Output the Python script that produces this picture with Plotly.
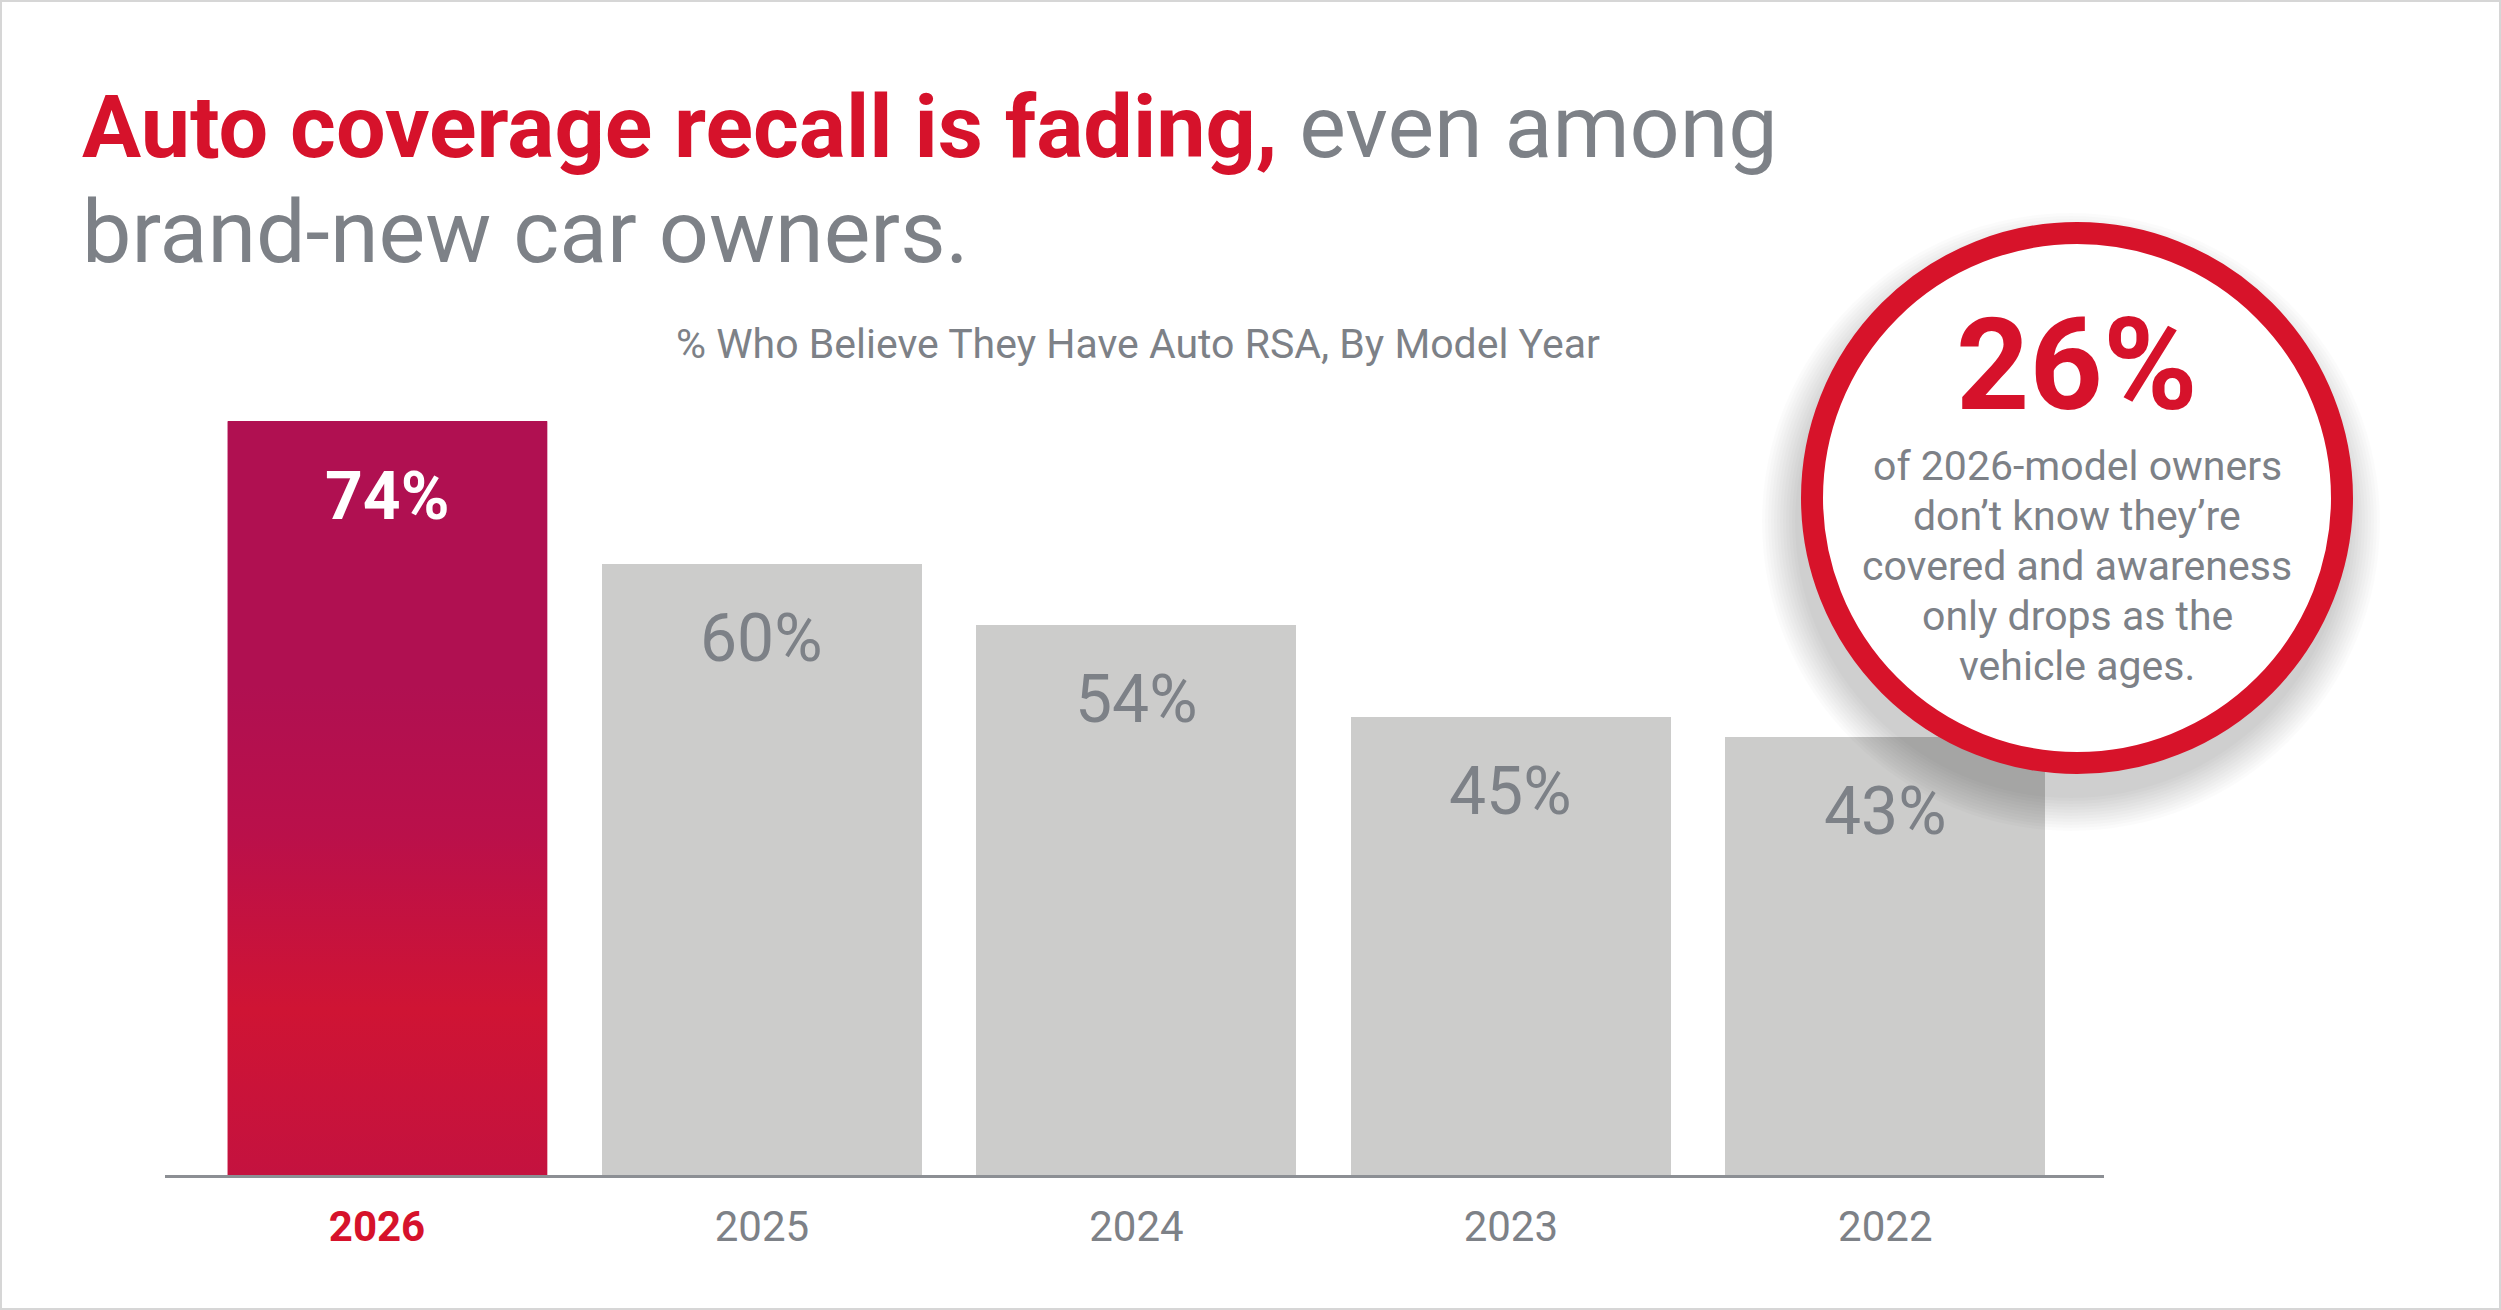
import plotly.graph_objects as go

# ---------------- data ----------------
years = ["2026", "2025", "2024", "2023", "2022"]
pct = [74, 60, 54, 45, 43]
value_labels = ["74%", "60%", "54%", "45%", "43%"]

title_red = "Auto coverage recall is fading,"
title_gray_1 = "even among"
title_gray_2 = "brand-new car owners."
subtitle = "% Who Believe They Have Auto RSA, By Model Year"

callout_value = "26%"
callout_lines = [
    "of 2026-model owners",
    "don\u2019t know they\u2019re",
    "covered and awareness",
    "only drops as the",
    "vehicle ages.",
]

# ---------------- layout constants ----------------
W, H = 2501, 1310
ML, MR, MT, MB = 165, 397, 360, 135
PW = W - ML - MR
PH = H - MT - MB
YMAX = 80
BAR_W = 0.854
X_RANGE = [-0.594, 4.584]

RED = "#d6122b"
GRAY_TXT = "#7d8187"
BAR_GRAY = "#cccccb"
AXIS = "#8c8f94"
FONT = "Roboto"


def fx(px):
    return (px - ML) / PW


def fy(py):
    return (H - MB - py) / PH


xs = list(range(len(years)))

fig = go.Figure()

fig.add_trace(go.Bar(
    x=xs, y=pct, width=BAR_W,
    marker=dict(color=["#b31150"] + [BAR_GRAY] * (len(years) - 1), line=dict(width=0)),
    hoverinfo="skip", showlegend=False,
))

# gradient overlay for highlighted (first) bar, built from its data value
x0 = xs[0] - BAR_W / 2
x1 = xs[0] + BAR_W / 2
fig.add_trace(go.Scatter(
    x=[x0, x1, x1, x0, x0], y=[0, 0, pct[0], pct[0], 0],
    mode="lines", line=dict(width=0), fill="toself",
    fillgradient=dict(type="vertical", colorscale=[
        [0.0, "#c4123f"], [0.22, "#cf1434"], [0.45, "#ba104a"], [0.65, "#b01051"], [1.0, "#b01051"]]),
    hoverinfo="skip", showlegend=False,
))

annotations = []
for i, (v, lab) in enumerate(zip(pct, value_labels)):
    annotations.append(dict(
        x=xs[i], y=v, xref="x", yref="y", text=(f"<b>{lab}</b>" if i == 0 else lab),
        showarrow=False, yanchor="middle", xanchor="center", yshift=-75,
        font=dict(family=FONT, size=66, color=("white" if i == 0 else GRAY_TXT)),
    ))

annotations += [
    dict(x=fx(80), y=fy(126), xref="paper", yref="paper", xanchor="left", yanchor="middle",
         text=f"<b><span style='color:{RED}'>{title_red}</span></b> {title_gray_1}",
         showarrow=False, align="left", font=dict(family=FONT, size=88, color=GRAY_TXT)),
    dict(x=fx(80), y=fy(231), xref="paper", yref="paper", xanchor="left", yanchor="middle",
         text=title_gray_2, showarrow=False, align="left",
         font=dict(family=FONT, size=88, color=GRAY_TXT)),
    dict(x=fx(1138), y=fy(344), xref="paper", yref="paper", xanchor="center", yanchor="middle",
         text=subtitle, showarrow=False, font=dict(family=FONT, size=41, color=GRAY_TXT)),
    dict(x=fx(2077), y=fy(365), xref="paper", yref="paper", xanchor="center", yanchor="middle",
         text=f"<b>{callout_value}</b>", showarrow=False,
         font=dict(family=FONT, size=128, color=RED)),
]
BODY_F = 41
for j, line in enumerate(callout_lines):
    baseline = 481 + 50 * j
    annotations.append(dict(
        x=fx(2077), y=fy(baseline - 0.355 * BODY_F), xref="paper", yref="paper",
        xanchor="center", yanchor="middle", text=line, showarrow=False,
        font=dict(family=FONT, size=BODY_F, color=GRAY_TXT)))

shapes = []
# outer frame
shapes.append(dict(type="rect", xref="paper", yref="paper", x0=fx(1), x1=fx(W - 1),
                   y0=fy(H - 1), y1=fy(1), line=dict(color="#d6d6d6", width=2),
                   fillcolor="rgba(0,0,0,0)", layer="above"))
# soft drop shadow for callout circle
CX, CY, R_OUT = 2077, 498, 276
SCX, SCY = CX - 6, CY + 24
for k in range(12):
    r = R_OUT + 3 * k
    shapes.append(dict(type="circle", xref="paper", yref="paper",
                       x0=fx(SCX - r), x1=fx(SCX + r), y0=fy(SCY + r), y1=fy(SCY - r),
                       line=dict(width=0), fillcolor="rgba(0,0,0,0.017)", layer="above"))
# callout circle
RP = R_OUT - 11
shapes.append(dict(type="circle", xref="paper", yref="paper",
                   x0=fx(CX - RP), x1=fx(CX + RP), y0=fy(CY + RP), y1=fy(CY - RP),
                   line=dict(color="#d7132a", width=22), fillcolor="white", layer="above"))

ticktext = [f"<span style='color:{RED}'><b>{years[0]}</b></span>\u00a0\u00a0"] + years[1:]

fig.update_layout(
    width=W, height=H,
    margin=dict(l=ML, r=MR, t=MT, b=MB, pad=0),
    paper_bgcolor="white", plot_bgcolor="white",
    showlegend=False, bargap=0,
    font=dict(family=FONT, color=GRAY_TXT),
    xaxis=dict(range=X_RANGE, tickvals=xs, ticktext=ticktext, showgrid=False, zeroline=False,
               showline=True, linecolor=AXIS, linewidth=3, ticks="", ticklabelstandoff=13,
               tickfont=dict(family=FONT, size=42, color=GRAY_TXT), fixedrange=True),
    yaxis=dict(range=[0, YMAX], visible=False, showgrid=False, zeroline=False, fixedrange=True),
    annotations=annotations, shapes=shapes,
)

fig.write_html("out.html", config={"displayModeBar": False},
               post_script="document.body.style.margin='0';")
